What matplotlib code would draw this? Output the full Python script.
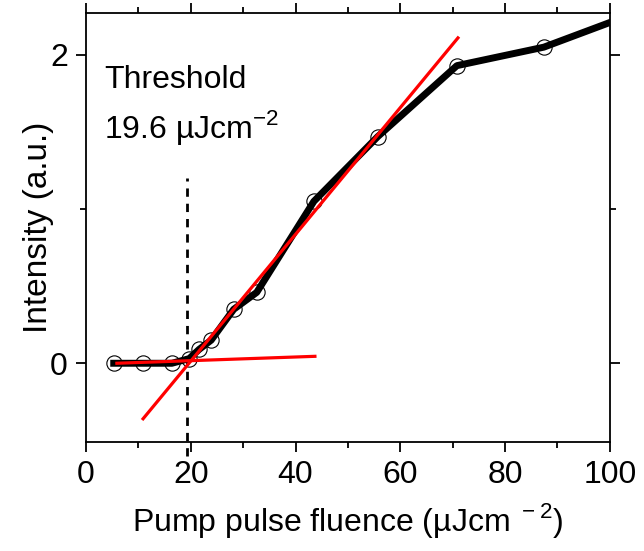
import matplotlib.pyplot as plt
from matplotlib.ticker import MultipleLocator

plt.rcParams['font.family'] = ['Liberation Sans', 'DejaVu Sans']
plt.rcParams['mathtext.fontset'] = 'custom'
plt.rcParams['mathtext.rm'] = 'Liberation Sans'

# ================= DATA =================
fluence = [5.3, 10.9, 16.4, 19.7, 21.6, 23.9, 28.2, 32.6, 43.5, 55.7, 70.8, 87.4, 100.0]
intensity = [0.0, 0.0, 0.0, 0.03, 0.09, 0.15, 0.35, 0.46, 1.05, 1.47, 1.93, 2.05, 2.21]

# linear fits below / above threshold (end points)
fit_low_x = [5.9, 43.7]
fit_low_y = [0.0, 0.045]
fit_high_x = [10.9, 71.0]
fit_high_y = [-0.36, 2.11]

threshold = 19.3
threshold_top = 1.2
# ========================================

fig = plt.figure(figsize=(6.44, 5.51), dpi=100)
ax = fig.add_axes([0.1335, 0.198, 0.8135, 0.778])

ax.plot(fluence, intensity, color="black", lw=5, zorder=2)
# last point sits on the frame, no marker drawn there
ax.plot(fluence[:-1], intensity[:-1], "o", mfc="none", mec="black", mew=0.8, ms=11, zorder=3)
ax.plot(fit_low_x, fit_low_y, color="red", lw=2.3, zorder=4)
ax.plot(fit_high_x, fit_high_y, color="red", lw=2.3, zorder=4)
ax.plot([threshold, threshold], [-0.6, threshold_top], color="black", lw=2,
        ls=(0, (3, 2.5)), zorder=1, clip_on=False)

ax.text(3.5, 1.84, "Threshold", fontsize=23, ha="left", va="center")
ax.text(3.5, 1.53, r"19.6 µJcm$^{\mathregular{-2}}$", fontsize=23, ha="left", va="center")

ax.set_xlim(0, 100)
ax.set_ylim(-0.51, 2.27)
ax.xaxis.set_major_locator(MultipleLocator(20))
ax.xaxis.set_minor_locator(MultipleLocator(10))
ax.yaxis.set_major_locator(MultipleLocator(2))
ax.yaxis.set_minor_locator(MultipleLocator(1))

ax.tick_params(which="both", direction="out", top=True, right=True, width=1.3)
ax.tick_params(which="major", length=7, labelsize=23, pad=6)
ax.tick_params(which="minor", length=4)
for s in ax.spines.values():
    s.set_linewidth(1.3)

ax.set_xlabel(r"Pump pulse fluence (µJcm$^{\mathregular{\ -2}}$)", fontsize=23, labelpad=8)
ax.set_ylabel("Intensity (a.u.)", fontsize=24, labelpad=-3)

plt.savefig("out.png", dpi=100)
plt.close()
